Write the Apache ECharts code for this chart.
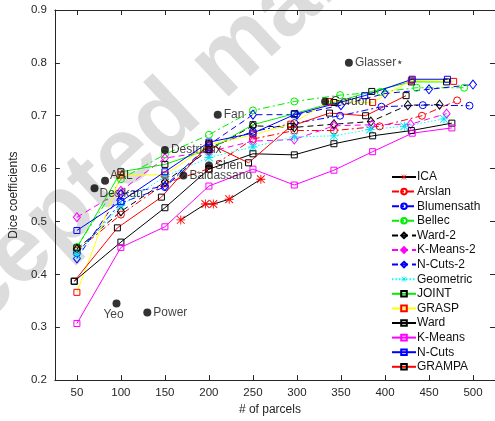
<!DOCTYPE html>
<html>
<head>
<meta charset="utf-8">
<script src="https://cdn.jsdelivr.net/npm/echarts@6/dist/echarts.min.js"></script>
<style>html,body{margin:0;padding:0;background:#fff}#c{width:495px;height:421px}</style>
</head>
<body>
<div id="c"></div>
<script>
// ---------- data ----------
const xTicks = [50, 100, 150, 200, 250, 300, 350, 400, 450, 500];

const icaX = [168, 196, 205, 223, 259];
const icaY = [0.503, 0.533, 0.533, 0.542, 0.580];

const arslanX = [50, 100, 150, 200, 250, 297, 342, 394, 442, 482];
const arslanY = [0.445, 0.513, 0.572, 0.600, 0.656, 0.672, 0.672, 0.680, 0.700, 0.729];

const blumX = [50, 100, 150, 200, 250, 297, 349, 396, 443, 496];
const blumY = [0.440, 0.535, 0.565, 0.640, 0.670, 0.686, 0.700, 0.717, 0.720, 0.719];

const bellecX = [50, 100, 150, 200, 250, 297, 349, 395, 436, 490];
const bellecY = [0.452, 0.580, 0.627, 0.664, 0.710, 0.727, 0.739, 0.745, 0.753, 0.753];

const ward2X = [50, 100, 150, 200, 250, 297, 342, 384, 426, 462];
const ward2Y = [0.448, 0.519, 0.575, 0.635, 0.681, 0.678, 0.684, 0.689, 0.720, 0.721];

const km2X = [50, 100, 150, 200, 250, 297, 342, 385, 429, 470];
const km2Y = [0.508, 0.558, 0.620, 0.632, 0.652, 0.655, 0.681, 0.683, 0.684, 0.704];

const nc2X = [50, 100, 150, 200, 250, 300, 350, 400, 450, 500];
const nc2Y = [0.430, 0.552, 0.567, 0.645, 0.702, 0.702, 0.720, 0.742, 0.750, 0.759];

const geoX = [50, 100, 150, 200, 250, 297, 342, 383, 422, 467];
const geoY = [0.438, 0.530, 0.585, 0.621, 0.641, 0.660, 0.662, 0.674, 0.680, 0.694];

const jointX = [50, 100, 150, 200, 250, 297, 342, 385, 430, 470];
const jointY = [0.450, 0.594, 0.608, 0.636, 0.683, 0.704, 0.725, 0.746, 0.764, 0.764];

const graspX = [50, 100, 150, 200, 250, 293, 337, 386, 430, 478];
const graspY = [0.366, 0.588, 0.588, 0.645, 0.664, 0.684, 0.727, 0.725, 0.767, 0.765];

const wardX = [47, 100, 150, 200, 250, 297, 342, 386, 430, 476];
const wardY = [0.387, 0.461, 0.526, 0.599, 0.628, 0.626, 0.647, 0.662, 0.672, 0.686];

const kmX = [50, 100, 150, 200, 250, 297, 342, 386, 431, 476];
const kmY = [0.307, 0.451, 0.490, 0.567, 0.599, 0.569, 0.597, 0.632, 0.667, 0.677];

const ncX = [50, 100, 150, 200, 250, 297, 377, 431, 471];
const ncY = [0.483, 0.538, 0.594, 0.650, 0.667, 0.702, 0.738, 0.769, 0.769];

const grampaX = [47, 96, 146, 200, 245, 293, 337, 378, 424];
const grampaY = [0.387, 0.488, 0.546, 0.647, 0.611, 0.680, 0.705, 0.700, 0.738];

const atlasNames = ['Glasser\u22c6', 'Fan', 'Gordon', 'Destrieux', 'AAL', 'Desikan', 'Baldassano', 'Shen', 'Yeo', 'Power'];
const atlasX = [359, 210, 332, 150, 82, 70, 171, 200, 95, 130];
const atlasY = [0.800, 0.702, 0.727, 0.635, 0.577, 0.563, 0.587, 0.606, 0.345, 0.328];

// ---------- styling ----------
const ASTER = 'path://M9 0h2v20h-2zM0 9h20v2h-20zM0.7 2.1L2.1 0.7L19.3 17.9L17.9 19.3zM17.9 0.7L19.3 2.1L2.1 19.3L0.7 17.9z';
const AX = '#262626';
const FONT = '"Liberation Sans", Arial, sans-serif';

function zip(xs, ys) { return xs.map((x, i) => [x, ys[i]]); }

function mk(name, xs, ys, lineColor, lineType, symbol, symColor, size, filled) {
  return {
    name: name, type: 'line', data: zip(xs, ys),
    symbol: symbol, symbolSize: size,
    lineStyle: { color: lineColor, width: 1, type: lineType },
    itemStyle: filled ? { color: symColor, borderWidth: 0 }
                      : { color: 'rgba(0,0,0,0)', borderColor: symColor, borderWidth: 1 },
    emphasis: { disabled: true },
    z: 3
  };
}

const DASHDOT = [7, 3, 2, 3];
const DASHED = [6, 4];
const DOTTED = [1.5, 2];

const series = [
  mk('ICA', icaX, icaY, '#000', 'solid', ASTER, '#ff0000', 9, true),
  mk('Arslan', arslanX, arslanY, '#ff0000', DASHDOT, 'circle', '#ff0000', 7, false),
  mk('Blumensath', blumX, blumY, '#0000ff', DASHDOT, 'circle', '#0000ff', 7, false),
  mk('Bellec', bellecX, bellecY, '#00ee00', DASHDOT, 'circle', '#00ee00', 7, false),
  mk('Ward-2', ward2X, ward2Y, '#000', DASHED, 'diamond', '#000', [7, 9], false),
  mk('K-Means-2', km2X, km2Y, '#ff00ff', DASHED, 'diamond', '#ff00ff', [7, 9], false),
  mk('N-Cuts-2', nc2X, nc2Y, '#0000ff', DASHED, 'diamond', '#0000ff', [7, 9], false),
  mk('Geometric', geoX, geoY, '#00ffff', DOTTED, ASTER, '#00e5ee', 9, true),
  mk('JOINT', jointX, jointY, '#00ee00', 'solid', 'rect', '#000', 6, false),
  mk('GRASP', graspX, graspY, '#ffff00', 'solid', 'rect', '#ff0000', 6, false),
  mk('Ward', wardX, wardY, '#000', 'solid', 'rect', '#000', 6, false),
  mk('K-Means', kmX, kmY, '#ff00ff', 'solid', 'rect', '#ff00ff', 6, false),
  mk('N-Cuts', ncX, ncY, '#0000ff', 'solid', 'rect', '#0000ff', 6, false),
  mk('GRAMPA', grampaX, grampaY, '#ff0000', 'solid', 'rect', '#000', 6, false)
];

const labelPos = {
  'AAL': { position: 'right', offset: [0, -5] },
  'Desikan': { position: 'right', offset: [0, 6] },
  'Yeo': { position: 'bottom', offset: [-3, 0] }
};

series.push({
  name: 'atlases', type: 'scatter', z: 4,
  symbol: 'circle', symbolSize: 8,
  itemStyle: { color: '#000' },
  emphasis: { disabled: true },
  label: { show: true, position: 'right', distance: 2, color: '#111', fontSize: 12, fontFamily: FONT, formatter: p => p.name },
  data: atlasNames.map((n, i) => {
    const d = { name: n, value: [atlasX[i], atlasY[i]] };
    if (labelPos[n]) d.label = Object.assign({ distance: 1 }, labelPos[n]);
    return d;
  })
});

const chart = echarts.init(document.getElementById('c'), null, { renderer: 'canvas' });
chart.setOption({
  animation: false,
  backgroundColor: '#fff',
  textStyle: { fontFamily: FONT },
  grid: { left: 51, top: 10, right: -3, bottom: 37, containLabel: false },
  graphic: [{
    type: 'text', x: 227, y: 62, rotation: 43 * Math.PI / 180, z: 0, silent: true,
    style: { text: 'Accepted manuscript', fill: '#dcdcdc', font: 'bold 95px "Liberation Sans", Arial, sans-serif',
             align: 'center', verticalAlign: 'middle', textAlign: 'center', textVerticalAlign: 'middle' }
  }],
  legend: {
    data: series.slice(0, 14).map(s => s.name),
    orient: 'vertical', left: 391, top: 170,
    itemWidth: 24, itemHeight: 7, itemGap: 0.6, padding: 0,
    textStyle: { fontSize: 12, lineHeight: 14, color: '#111', fontFamily: FONT, padding: [0, 0, 0, -4] },
    selectedMode: false
  },
  xAxis: [{
    type: 'value', min: 25, max: 525, position: 'bottom',
    name: '# of parcels', nameLocation: 'middle', nameGap: 20,
    nameTextStyle: { fontSize: 12, color: AX, fontFamily: FONT, padding: [0, 10, 0, 0] },
    axisLine: { show: true, lineStyle: { color: AX, width: 1 } },
    axisTick: { show: true, inside: true, length: 5, customValues: xTicks, lineStyle: { color: AX } },
    axisLabel: { show: true, customValues: xTicks, color: AX, fontSize: 11.5, margin: 7, fontFamily: FONT },
    splitLine: { show: false }
  }, {
    type: 'value', min: 25, max: 525, position: 'top',
    axisLine: { show: true, lineStyle: { color: AX, width: 1 } },
    axisTick: { show: true, inside: true, length: 5, customValues: xTicks, lineStyle: { color: AX } },
    axisLabel: { show: false }, splitLine: { show: false }
  }],
  yAxis: [{
    type: 'value', min: 0.2, max: 0.9, interval: 0.1, position: 'left',
    name: 'Dice coefficients', nameLocation: 'middle', nameGap: 34,
    nameTextStyle: { fontSize: 12, color: AX, fontFamily: FONT },
    axisLine: { show: true, lineStyle: { color: AX, width: 1 } },
    axisTick: { show: true, inside: true, length: 5, lineStyle: { color: AX } },
    axisLabel: { color: AX, fontSize: 11.5, margin: 8, fontFamily: FONT, formatter: v => v.toFixed(1) },
    splitLine: { show: false }
  }, {
    type: 'value', min: 0.2, max: 0.9, interval: 0.1, position: 'right',
    axisLine: { show: true, lineStyle: { color: AX, width: 1 } },
    axisTick: { show: true, inside: true, length: 5, lineStyle: { color: AX } },
    axisLabel: { show: false }, splitLine: { show: false }
  }],
  series: series
});
</script>
</body>
</html>
